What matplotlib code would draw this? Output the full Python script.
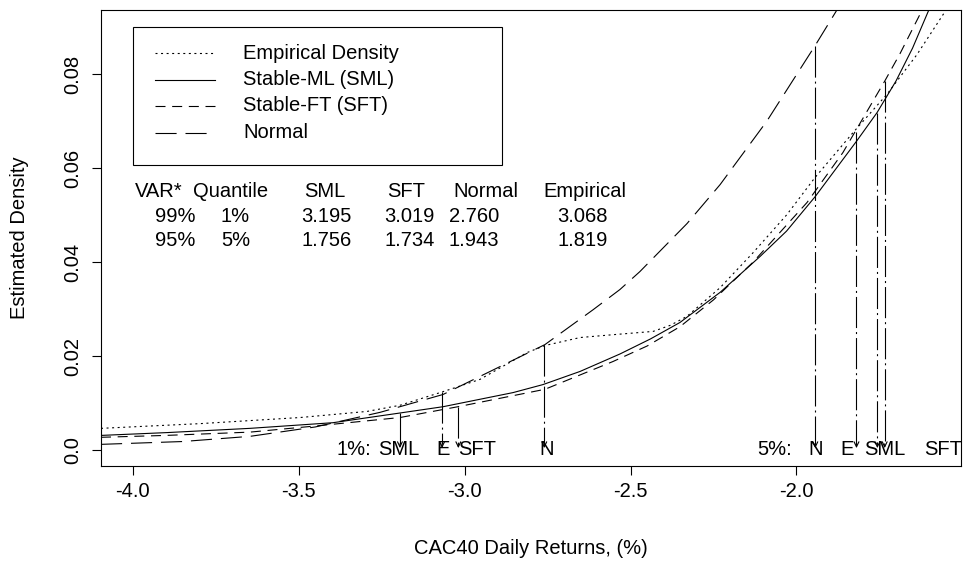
import numpy as np
import matplotlib
matplotlib.use("Agg")
import matplotlib.pyplot as plt
from matplotlib.patches import Rectangle

plt.rcParams['font.family'] = ['Liberation Sans', 'DejaVu Sans']
plt.rcParams['font.size'] = 14.5

# density curves (x = daily return in %, y = density)
emp_x = [-4.096, -3.798, -3.496, -3.294, -3.195, -3.065, -2.954, -2.812, -2.758, -2.652, -2.553,
         -2.432, -2.380, -2.330, -2.230, -2.131, -2.029, -1.944, -1.830, -1.727, -1.637, -1.549]
emp_y = [0.0047, 0.0057, 0.0070, 0.0083, 0.0096, 0.0125, 0.0151, 0.0208, 0.0223, 0.0240, 0.0246,
         0.0253, 0.0266, 0.0285, 0.0346, 0.0420, 0.0501, 0.0580, 0.0675, 0.0757, 0.0841, 0.0936]

sml_x = [-4.096, -3.897, -3.647, -3.397, -3.201, -3.065, -2.854, -2.764, -2.652, -2.532, -2.440,
         -2.351, -2.230, -2.110, -2.030, -1.944, -1.818, -1.757, -1.700, -1.650, -1.601]
sml_y = [0.0032, 0.0038, 0.0047, 0.0059, 0.0079, 0.0093, 0.0123, 0.0140, 0.0168, 0.0205, 0.0237,
         0.0272, 0.0336, 0.0412, 0.0466, 0.0539, 0.0658, 0.0718, 0.0785, 0.0855, 0.0936]

sft_x = [-4.096, -3.900, -3.647, -3.450, -3.195, -3.020, -2.758, -2.553, -2.450, -2.351, -2.250,
         -2.131, -1.968, -1.860, -1.733, -1.688, -1.621]
sft_y = [0.0028, 0.0032, 0.0039, 0.0052, 0.0070, 0.0093, 0.0130, 0.0189, 0.0222, 0.0263, 0.0320,
         0.0400, 0.0527, 0.0633, 0.0786, 0.0843, 0.0936]

nor_x = [-4.096, -3.850, -3.647, -3.450, -3.255, -3.065, -2.758, -2.613, -2.532, -2.472, -2.330,
         -2.230, -2.089, -1.944, -1.878]
nor_y = [0.0013, 0.0019, 0.0030, 0.0050, 0.0081, 0.0119, 0.0225, 0.0299, 0.0342, 0.0380, 0.0482,
         0.0565, 0.0700, 0.0860, 0.0936]

# VaR markers (x = -VaR), top of each marker sits on its curve
var1_x = [-3.195, -3.068, -3.019, -2.760]     # SML, E, SFT, N  (1%)
var1_top = [0.0079, 0.0125, 0.0093, 0.0225]
var5_x = [-1.943, -1.819, -1.756, -1.734]     # N, E, SML, SFT  (5%)
var5_top = [0.0860, 0.0677, 0.0718, 0.0786]

lab1 = ["1%:", "SML", "E", "SFT", "N"]
lab1_x = [-3.333, -3.199, -3.065, -2.963, -2.753]
lab5 = ["5%:", "N", "E", "SML", "SFT"]
lab5_x = [-2.066, -1.942, -1.848, -1.733, -1.557]

# VaR table
tab_head = ["VAR*", "Quantile", "SML", "SFT", "Normal", "Empirical"]
tab_head_x = [-3.921, -3.706, -3.422, -3.177, -2.937, -2.637]
tab_row1 = ["99%", "1%", "3.195", "3.019", "2.760", "3.068"]
tab_row2 = ["95%", "5%", "1.756", "1.734", "1.943", "1.819"]
tab_row_x = [-3.873, -3.691, -3.416, -3.166, -2.972, -2.645]
tab_y = [0.0550, 0.0497, 0.0446]

lw = 0.8
dot = (0, (1.8, 3.2))
sdash = (0, (9, 6))
ldash = (0, (19, 8))
dashdot = (0, (28, 3.6, 1.8, 3.6))

fig = plt.figure(figsize=(9.68, 5.64), dpi=100)
ax = fig.add_axes([101/968, 98/564, 860/968, 456/564])

ax.plot(emp_x, emp_y, color="black", lw=lw, ls=dot)
ax.plot(sml_x, sml_y, color="black", lw=lw, ls="-")
ax.plot(sft_x, sft_y, color="black", lw=lw, ls=sdash)
ax.plot(nor_x, nor_y, color="black", lw=lw, ls=ldash)

tip = 0.0005
for xs, tops in [(var1_x, var1_top), (var5_x, var5_top)]:
    for x, t in zip(xs, tops):
        ax.plot([x, x], [t, tip + 0.0008], color="black", lw=lw, ls=dashdot)
        ax.annotate("", xy=(x, tip), xytext=(x, tip + 0.0009),
                    arrowprops=dict(arrowstyle="->,head_length=0.25,head_width=0.12",
                                    lw=lw, color="black", shrinkA=0, shrinkB=0))

for s, x in zip(lab1, lab1_x):
    ax.text(x, 0.0002, s, ha="center", va="center")
for s, x in zip(lab5, lab5_x):
    ax.text(x, 0.0002, s, ha="center", va="center")

for s, x in zip(tab_head, tab_head_x):
    ax.text(x, tab_y[0], s, ha="center", va="center")
for s, x in zip(tab_row1, tab_row_x):
    ax.text(x, tab_y[1], s, ha="center", va="center")
for s, x in zip(tab_row2, tab_row_x):
    ax.text(x, tab_y[2], s, ha="center", va="center")

# legend box (R style)
ax.add_patch(Rectangle((0.0372, 0.660), 0.4291, 0.3027, transform=ax.transAxes,
                       fill=False, lw=lw, ec="black"))
leg_styles = [dot, "-", sdash, ldash]
leg_text = ["Empirical Density", "Stable-ML (SML)", "Stable-FT (SFT)", "Normal"]
leg_y = [0.9057, 0.8465, 0.7895, 0.7303]
for st, s, yy in zip(leg_styles, leg_text, leg_y):
    ax.plot([0.0628, 0.1326], [yy, yy], transform=ax.transAxes, color="black", lw=lw, ls=st)
    ax.text(0.1651, yy, s, transform=ax.transAxes, ha="left", va="center")

ax.set_xlim(-4.096, -1.504)
ax.set_ylim(-0.0033, 0.0936)
ax.set_xticks([-4.0, -3.5, -3.0, -2.5, -2.0])
ax.set_xticklabels(["-4.0", "-3.5", "-3.0", "-2.5", "-2.0"])
ax.set_yticks([0.0, 0.02, 0.04, 0.06, 0.08])
ax.set_yticklabels(["0.0", "0.02", "0.04", "0.06", "0.08"], rotation=90, va="center")
ax.tick_params(direction="out", length=6.5, width=lw, labelsize=14.5)
ax.tick_params(axis="x", pad=5)
ax.tick_params(axis="y", pad=7)
for sp in ax.spines.values():
    sp.set_linewidth(lw)

fig.text(531/968, 1 - 548/564, "CAC40 Daily Returns, (%)", ha="center", va="center",
         fontsize=14.5)
fig.text(20/968, 1 - 238/564, "Estimated Density", rotation=90, ha="center", va="center",
         fontsize=14.5)

fig.savefig("out.png", dpi=100)
